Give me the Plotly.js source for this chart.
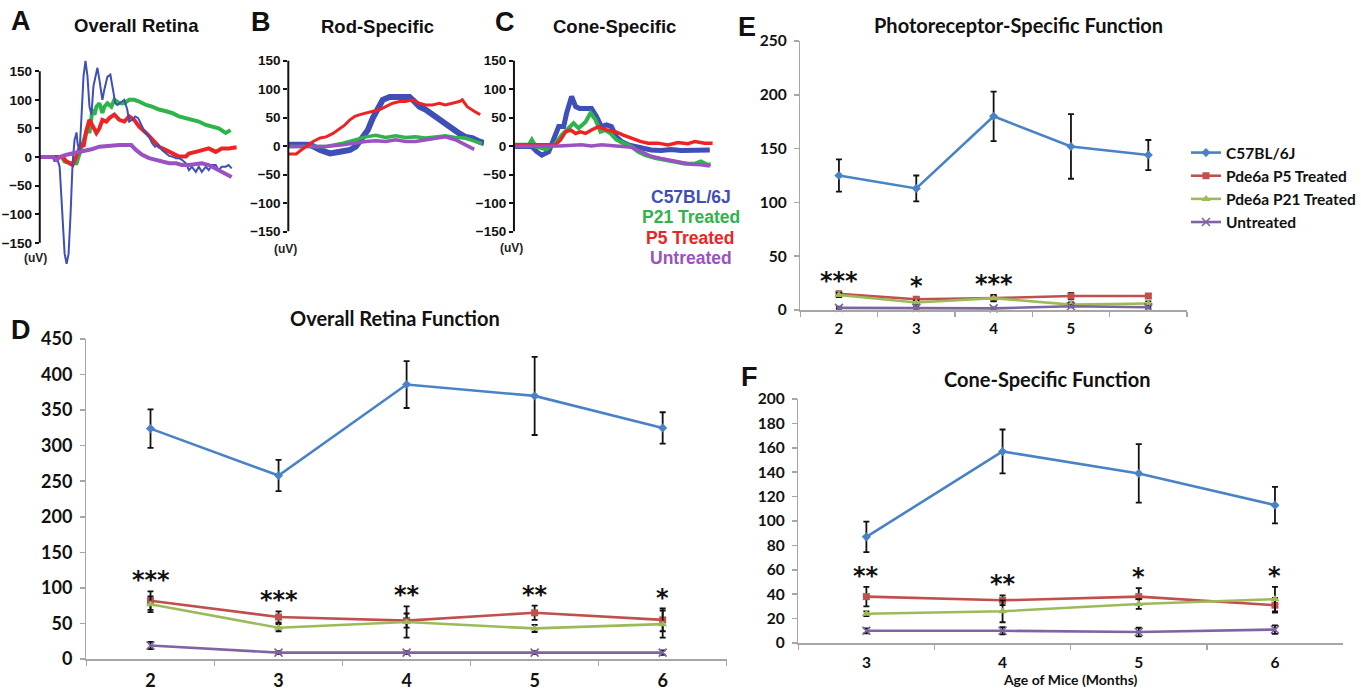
<!DOCTYPE html>
<html><head><meta charset="utf-8">
<script src="https://cdn.plot.ly/plotly-3.0.1.min.js"></script>
<style>html,body{margin:0;padding:0;background:#fff;} #chart{width:1361px;height:691px;}</style>
</head><body><div id="chart"></div>
<script>
// ---------------- DATA ----------------
// Panel A: Overall Retina ERG traces (time, uV)
const aBlueT = [0,13,15,17,20,23,25,27,29,31,33,35,37,38,40,42,44,46,48,50,52,54,58,60,63,65,68,71,73,76,78,82,85,88,90,93,96,99,103,106,109,113,116,119,123,127,130,133,137,140,143,147,150,153,157,160,163,167,170,173,177,180,183,187,190,193];
const aBlue  = [0,0,-8,0,-17,-105,-169,-187,-169,-99,-11,30,43,24,9,71,141,168,141,88,74,124,156,135,100,118,140,144,124,94,91,97,100,83,62,65,71,68,53,42,39,24,18,21,12,6,2,1,-2,-2,-5,-11,-23,-17,-26,-17,-26,-17,-23,-14,-14,-23,-17,-17,-14,-20];
const aGreenT = [0,22,25,32,37,40,43,46,48,50,53,55,57,60,63,65,68,72,75,80,85,90,95,100,107,113,120,127,133,140,147,153,160,167,173,180,187,192];
const aGreen  = [0,0,-8,-11,-11,6,24,42,50,42,83,74,88,94,77,88,94,88,100,94,94,100,100,97,91,88,83,80,77,71,68,65,62,56,53,50,42,47];
const aRedT = [0,23,27,33,38,42,44,47,50,53,57,60,63,67,70,75,80,85,90,95,100,107,113,120,127,133,140,147,150,157,163,170,177,183,190,198];
const aRed  = [0,0,-8,-14,6,24,18,47,65,56,42,50,65,62,68,74,65,62,71,65,53,42,30,18,12,6,1,1,6,9,12,15,9,15,15,17];
const aPurpleT = [0,13,17,20,27,33,40,47,53,60,67,73,80,87,92,97,103,110,117,123,130,137,143,150,157,163,170,177,183,190,193];
const aPurple  = [0,0,-5,0,4,6,9,12,14,18,19,21,21,21,21,12,4,-2,-5,-8,-11,-11,-14,-14,-12,-11,-14,-20,-26,-32,-35];

// Panel B: Rod-Specific
const bBlueT = [0,22,32,42,52,62,68,75,80,85,90,95,102,108,115,122,127,132,138,145,152,158,165,172,178,185,192,197];
const bBlue  = [2,2,-7,-13,-10,-7,-1,14,28,49,66,81,86,86,86,86,78,69,64,55,46,37,28,22,16,14,8,5];
const bRedT = [0,8,13,18,25,32,38,45,52,57,62,67,72,78,85,92,98,105,112,118,125,132,138,145,152,158,165,172,175,180,187,193];
const bRed  = [-14,-14,-7,-1,8,14,16,22,31,37,46,52,55,58,61,64,69,75,78,78,81,75,72,72,75,72,75,78,81,69,61,55];
const bGreenT = [0,22,38,55,68,78,88,98,108,118,128,138,148,158,168,178,188,195];
const bGreen  = [-1,-1,-1,5,11,16,19,15,18,15,16,14,16,18,15,14,8,4];
const bPurpleT = [0,22,38,55,68,78,88,98,108,118,128,138,148,158,168,178,187];
const bPurple  = [-1,-1,-1,2,6,8,9,8,11,8,8,11,14,16,11,2,-6];

// Panel C: Cone-Specific
const cBlueT = [0,18,23,28,35,40,45,50,53,58,62,66,72,78,83,88,93,98,103,108,115,122,128,138,148,158,168,178,188,197];
const cBlue  = [-1,-1,-10,-16,-10,11,34,34,58,87,69,66,66,66,52,34,37,34,16,8,2,-1,-4,-7,-8,-6,-8,-7,-7,-7];
const cGreenT = [0,15,18,22,32,42,48,55,60,65,72,77,82,87,92,97,103,110,118,125,132,142,152,162,172,182,188,195,198];
const cGreen  = [2,2,11,-1,-6,5,19,31,40,31,42,58,46,25,28,22,11,5,-1,-10,-16,-21,-24,-27,-31,-31,-27,-33,-32];
const cRedT = [0,28,42,47,52,57,62,67,72,78,85,93,102,110,118,127,135,145,155,165,175,182,192,200];
const cRed  = [2,2,2,11,25,28,22,25,22,28,34,28,25,19,14,8,5,5,2,6,4,8,5,5];
const cPurpleT = [0,28,45,68,78,88,105,118,128,138,148,158,168,178,188,197];
const cPurple  = [-1,-1,0,2,0,2,0,-2,-10,-18,-22,-25,-29,-32,-33,-35];

const waveTicks = [-150,-100,-50,0,50,100,150];
const waveLegend = ['C57BL/6J','P21 Treated','P5 Treated','Untreated'];

// Panel D: Overall Retina Function
const dMonths = ['2','3','4','5','6'];
const dC57 = [324,258,386,370,325];      const dC57Err = [27,22,33,55,22];
const dP5  = [82,59,54,65,55];           const dP5Err  = [13,8,10,10,16];
const dP21 = [77,44,52,43,49];           const dP21Err = [11,5,22,5,19];
const dUnt = [19,9,9,9,9];               const dUntErr = [5,2,2,2,3];
const dStars = ['***','***','**','**','*'];

// Panel E: Photoreceptor-Specific Function
const eMonths = ['2','3','4','5','6'];
const eC57 = [125,113,180,152,144];      const eC57Err = [15,12,23,30,14];
const eP5  = [15,10,11,13,13];           const eP5Err  = [2,2,2,3,2];
const eP21 = [14,7,11,5,6];              const eP21Err = [2,2,3,2,2];
const eUnt = [2,2,1.5,3.5,2.5];          const eUntErr = [1,1,1,1,1];
const eStars = ['***','*','***','',''];

// Panel F: Cone-Specific Function
const fMonths = ['3','4','5','6'];
const fC57 = [87,157,139,113];           const fC57Err = [12.5,18,24,15];
const fP5  = [38,35,38,31];              const fP5Err  = [8,4,7,6];
const fP21 = [24,26,32,36];              const fP21Err = [2,9,4,10];
const fUnt = [10,10,9,11];               const fUntErr = [2,3,3.5,3.5];
const fStars = ['**','**','*','*'];

const seriesNames = ['C57BL/6J','Pde6a P5 Treated','Pde6a P21 Treated','Untreated'];

// ---------------- STYLE / LAYOUT ----------------
const W = 1361, H = 691;
const xd = (a,b) => [a/W, b/W];
const yd = (top,bottom) => [1-bottom/H, 1-top/H];
const ARIAL = 'Liberation Sans, Arial, sans-serif';
const NARROW = "Lato, 'Liberation Sans Narrow', Roboto, sans-serif";
const STARF = 'DejaVu Sans, sans-serif';

const WC = {blue:'#3f4fb8', green:'#2fb34b', red:'#ee2424', purple:'#9a52c2'};
const SC = [
  {color:'#4a82c6', symbol:'diamond', size:7},
  {color:'#c0504d', symbol:'square', size:7},
  {color:'#9bbb59', symbol:'triangle-up', size:8},
  {color:'#8064a2', symbol:'x-thin', size:8}
];

function wave(x, y, color, width, n) {
  return {type:'scatter', mode:'lines', x:x, y:y, xaxis:'x'+n, yaxis:'y'+n,
    line:{color:color, width:width}, showlegend:false, hoverinfo:'skip'};
}
function series(x, y, err, k, n, showleg) {
  const s = SC[k];
  const mk = {symbol:s.symbol, size:s.size, color:s.color};
  if (s.symbol === 'x-thin') mk.line = {color:s.color, width:1.6};
  return {type:'scatter', mode:'lines+markers', x:x, y:y, name:seriesNames[k],
    xaxis:'x'+n, yaxis:'y'+n, line:{color:s.color, width:2.6}, marker:mk,
    error_y:{type:'data', array:err, visible:true, color:'#111', thickness:1.8, width:3},
    showlegend:showleg, hoverinfo:'skip', cliponaxis:false};
}

const traces = [
  wave(aGreenT, aGreen, WC.green, 4, ''), wave(aRedT, aRed, WC.red, 4, ''),
  wave(aBlueT, aBlue, WC.blue, 2, ''), wave(aPurpleT, aPurple, WC.purple, 4, ''),
  wave(bBlueT, bBlue, WC.blue, 6, 2), wave(bGreenT, bGreen, WC.green, 3.5, 2),
  wave(bPurpleT, bPurple, WC.purple, 3.5, 2), wave(bRedT, bRed, WC.red, 3, 2),
  wave(cBlueT, cBlue, WC.blue, 5, 3), wave(cGreenT, cGreen, WC.green, 4, 3),
  wave(cRedT, cRed, WC.red, 3.5, 3), wave(cPurpleT, cPurple, WC.purple, 3.5, 3),
  series(dMonths, dC57, dC57Err, 0, 4, false), series(dMonths, dP5, dP5Err, 1, 4, false),
  series(dMonths, dP21, dP21Err, 2, 4, false), series(dMonths, dUnt, dUntErr, 3, 4, false),
  series(eMonths, eC57, eC57Err, 0, 5, true), series(eMonths, eP5, eP5Err, 1, 5, true),
  series(eMonths, eP21, eP21Err, 2, 5, true), series(eMonths, eUnt, eUntErr, 3, 5, true),
  series(fMonths, fC57, fC57Err, 0, 6, false), series(fMonths, fP5, fP5Err, 1, 6, false),
  series(fMonths, fP21, fP21Err, 2, 6, false), series(fMonths, fUnt, fUntErr, 3, 6, false)
];

function waveX(dom, range, n) {
  return {domain:dom, range:range, visible:false, fixedrange:true, anchor:'y'+n};
}
function waveY(dom, range, n) {
  return {domain:dom, range:range, anchor:'x'+n, tickvals:waveTicks, ticks:'outside', ticklen:4,
    tickwidth:2, tickcolor:'#111', showline:false, zeroline:false, showgrid:false,
    tickfont:{family:ARIAL, size:13.5, weight:'bold', color:'#111'}, fixedrange:true};
}
function xlX(dom, cats, n, fs, standoff) {
  return {domain:dom, type:'category', range:[-0.5, cats.length-0.5], anchor:'y'+n,
    tickson:'boundaries', ticks:'outside', ticklen:5, tickcolor:'#a6a6a6', tickwidth:1.5,
    showline:true, linecolor:'#a6a6a6', linewidth:1.5, showgrid:false, zeroline:false,
    ticklabelstandoff:standoff, tickfont:{family:NARROW, size:fs, weight:'bold', color:'#111'}, fixedrange:true};
}
function xlY(dom, range, dtick, n, fs) {
  return {domain:dom, range:range, dtick:dtick, anchor:'x'+n, ticks:'outside', ticklen:5,
    tickcolor:'#a6a6a6', tickwidth:1.5, showline:true, linecolor:'#a6a6a6', linewidth:1.5,
    showgrid:false, zeroline:false, ticklabelstandoff:4,
    tickfont:{family:NARROW, size:fs, weight:'bold', color:'#111'}, fixedrange:true};
}

function pa(text, px, py, font, extra) {
  return Object.assign({xref:'paper', yref:'paper', x:px/W, y:1-py/H, text:text, showarrow:false,
    xanchor:'center', yanchor:'middle', font:font}, extra||{});
}
const letterFont = {family:ARIAL, size:27, weight:'bold', color:'#111'};
const waveTitleFont = {family:ARIAL, size:18.5, weight:'bold', color:'#111'};
const uvFont = {family:ARIAL, size:12, weight:'bold', color:'#222'};
const xlTitleFont = {family:NARROW, size:20, weight:'bold', color:'#111'};
const waveLegColors = [WC.blue, WC.green, WC.red, WC.purple];

// star labels sit just above the highest treated-group error bar; x is the category index
function starAnns(cats, stars, p5, p5e, p21, p21e, n) {
  const out = [];
  cats.forEach((c,i) => {
    if (!stars[i]) return;
    out.push({xref:'x'+n, yref:'y'+n, x:i, y:Math.max(p5[i]+p5e[i], p21[i]+p21e[i]),
      text:stars[i], showarrow:false, xanchor:'center', yanchor:'bottom', yshift:-5,
      font:{family:STARF, size:24, weight:'bold', color:'#111'}});
  });
  return out;
}

const annotations = [
  pa('A', 21, 21, letterFont), pa('B', 263, 22, letterFont), pa('C', 508, 22, letterFont),
  pa('D', 21, 330, letterFont), pa('E', 751, 27, letterFont), pa('F', 754, 377, letterFont),
  pa('Overall Retina', 137, 25, waveTitleFont), pa('Rod-Specific', 380, 26, waveTitleFont),
  pa('Cone-Specific', 618, 26, waveTitleFont),
  pa('(uV)', 36, 258, uvFont), pa('(uV)', 287, 249, uvFont), pa('(uV)', 515, 248, uvFont),
  pa('Overall Retina Function', 397, 318, xlTitleFont),
  pa('Photoreceptor-Specific Function', 1025, 25, xlTitleFont),
  pa('Cone-Specific Function', 1053, 379, xlTitleFont)
].concat(waveLegend.map((t,i) => pa(t, 695, 197 + i*20.3,
    {family:ARIAL, size:17.5, weight:'bold', color:waveLegColors[i]})))
 .concat(starAnns(dMonths, dStars, dP5, dP5Err, dP21, dP21Err, 4))
 .concat(starAnns(eMonths, eStars, eP5, eP5Err, eP21, eP21Err, 5))
 .concat(starAnns(fMonths, fStars, fP5, fP5Err, fP21, fP21Err, 6));

function axisLine(px, n) {
  return {type:'line', xref:'paper', yref:'y'+n, x0:px/W, x1:px/W, y0:-150, y1:150,
    line:{color:'#111', width:2}};
}

const layout = {
  width:W, height:H, margin:{l:0,r:0,t:0,b:0}, paper_bgcolor:'#fff', plot_bgcolor:'rgba(0,0,0,0)',
  showlegend:true,
  legend:{x:1193/W, xanchor:'left', y:1-136/H, yanchor:'top', itemwidth:30, bgcolor:'rgba(0,0,0,0)',
    font:{family:NARROW, size:15.5, weight:'bold', color:'#111'}, tracegroupgap:0},
  xaxis: waveX(xd(40,240), [0,200], ''),
  yaxis: waveY(yd(59.8,268.5), [-195,170], ''),
  xaxis2: waveX(xd(290,487), [0,197], 2),
  yaxis2: waveY(yd(60.5,231.5), [-150,150], 2),
  xaxis3: waveX(xd(517,717), [0,200], 3),
  yaxis3: waveY(yd(60.5,231.5), [-150,150], 3),
  xaxis4: xlX(xd(87,731), dMonths, 4, 18, 5),
  yaxis4: xlY(yd(339,659), [0,450], 50, 4, 18),
  xaxis5: xlX(xd(805,1194), eMonths, 5, 15, 4),
  yaxis5: xlY(yd(41,310), [0,250], 50, 5, 15.5),
  xaxis6: Object.assign(xlX(xd(803,1351), fMonths, 6, 15.5, 5),
    {title:{text:'Age of Mice (Months)', font:{family:NARROW, size:14, weight:'bold', color:'#111'}, standoff:4}}),
  yaxis6: xlY(yd(399,643), [0,200], 20, 6, 15.5),
  shapes:[axisLine(40,''), axisLine(290,2), axisLine(517,3)],
  annotations:annotations
};

Plotly.newPlot('chart', traces, layout, {displayModeBar:false, staticPlot:true});
</script></body></html>
